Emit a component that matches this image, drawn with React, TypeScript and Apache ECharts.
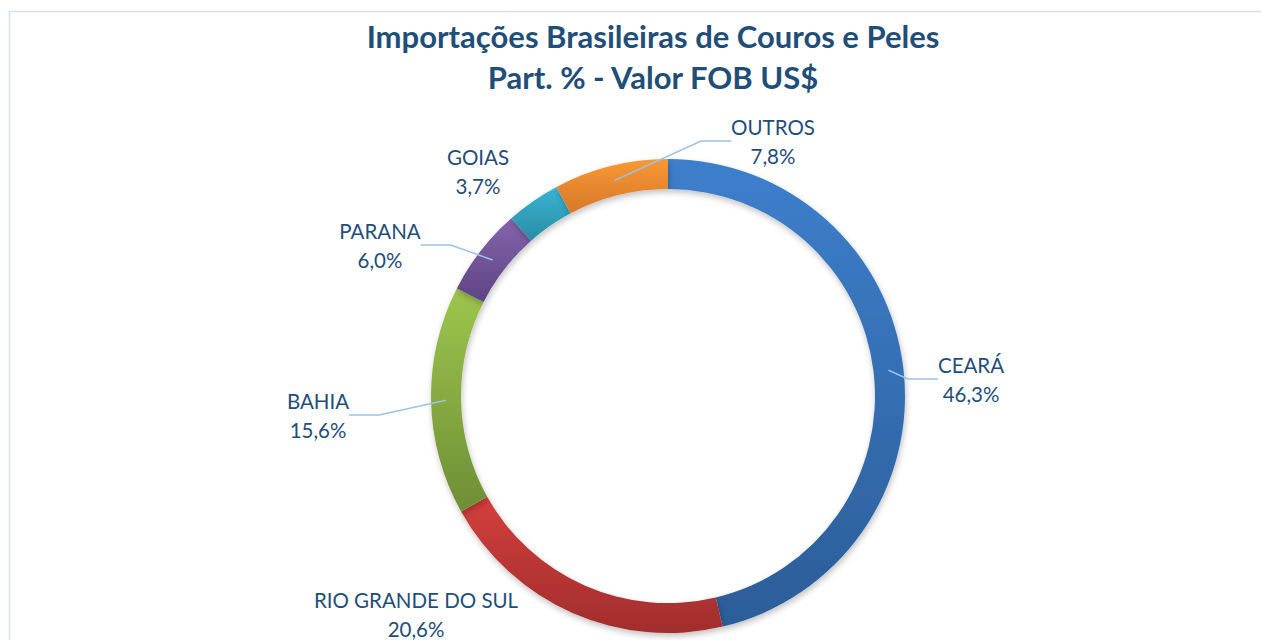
import React, { useEffect, useRef } from "react";
import * as echarts from "echarts";

const categories = ["CEARÁ", "RIO GRANDE DO SUL", "BAHIA", "PARANA", "GOIAS", "OUTROS"];
const shares = [46.3, 20.6, 15.6, 6.0, 3.7, 7.8];
const topColors = ["#3d7fcc", "#d33f3c", "#9ec54d", "#8563ac", "#38b5d4", "#f99834"];
const bottomColors = ["#2c5d98", "#a12d2d", "#6e8e35", "#5e4583", "#2a8ca6", "#d6782a"];
const labelPos: [number, number][] = [
  [971, 379],
  [416, 614],
  [318, 415],
  [380, 245],
  [478, 171],
  [773, 141],
];
const showLine = [true, false, true, true, false, true];

const fmt = (v: number) => v.toFixed(1).replace(".", ",") + "%";

export default function App() {
  const ref = useRef<HTMLDivElement>(null);
  useEffect(() => {
    if (!ref.current) return;
    const chart = echarts.init(ref.current, null, { renderer: "svg" });
    const font = "Lato, 'Open Sans', sans-serif";
    chart.setOption({
      animation: false,
      backgroundColor: "#ffffff",
      title: {
        text: "Importações Brasileiras de Couros e Peles\nPart. % - Valor FOB US$",
        left: 648,
        top: 10,
        textAlign: "center",
        textStyle: {
          fontFamily: font,
          fontWeight: "bold",
          fontSize: 31,
          lineHeight: 41,
          color: "#1f4e79",
        },
      },
      graphic: [
        {
          type: "rect",
          shape: { x: 9.5, y: 11.5, width: 1400, height: 800 },
          style: { fill: "none", stroke: "#d6e0ee", lineWidth: 1.5 },
          silent: true,
          z: -1,
        },
      ],
      series: [
        {
          type: "pie",
          center: [668, 396],
          radius: [207, 237],
          startAngle: 90,
          clockwise: true,
          silent: true,
          label: { show: false },
          labelLine: { show: false },
          itemStyle: {
            shadowBlur: 6,
            shadowOffsetX: 1,
            shadowOffsetY: 3,
            shadowColor: "rgba(0,0,0,0.25)",
          },
          data: categories.map((c, i) => ({
            name: c,
            value: shares[i],
            itemStyle: {
              color: new echarts.graphic.LinearGradient(0, 0, 0, 1, [
                { offset: 0, color: topColors[i] },
                { offset: 1, color: bottomColors[i] },
              ]),
            },
          })),
        },
        {
          type: "pie",
          center: [668, 396],
          radius: [0, 222],
          startAngle: 90,
          clockwise: true,
          silent: true,
          z: 5,
          itemStyle: { color: "rgba(0,0,0,0)" },
          label: {
            show: true,
            position: "outside",
            fontFamily: font,
            fontSize: 20.5,
            lineHeight: 29,
            color: "#1f4e79",
            formatter: (p: any) => p.name + "\n" + fmt(p.value),
          },
          labelLine: {
            show: true,
            lineStyle: { color: "#9cc2e8", width: 1.5 },
          },
          labelLayout: (p: any) => ({
            x: labelPos[p.dataIndex][0],
            y: labelPos[p.dataIndex][1],
            align: "center",
            verticalAlign: "middle",
          }),
          data: categories.map((c, i) => ({
            name: c,
            value: shares[i],
            labelLine: { show: showLine[i] },
          })),
        },
      ],
    });
    return () => chart.dispose();
  }, []);
  return (
    <div
      ref={ref}
      style={{ position: "fixed", left: 0, top: 0, width: 1261, height: 640 }}
    />
  );
}
